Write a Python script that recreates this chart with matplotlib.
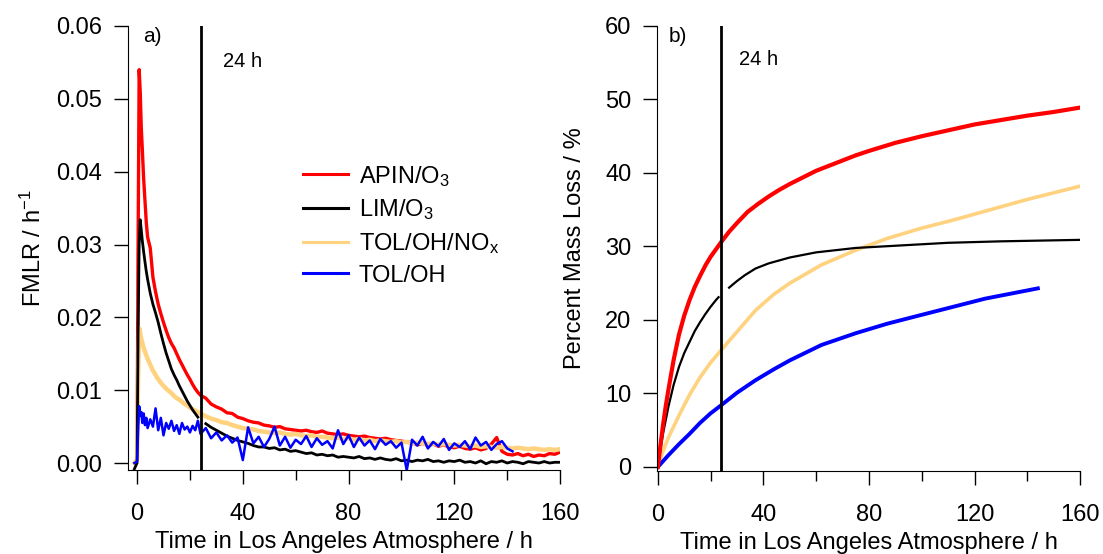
import matplotlib
matplotlib.use("Agg")
import matplotlib.pyplot as plt
import numpy as np

plt.rcParams["font.family"] = ["Liberation Sans", "DejaVu Sans"]
plt.rcParams["mathtext.fontset"] = "custom"
plt.rcParams["mathtext.rm"] = "Liberation Sans"
plt.rcParams["mathtext.default"] = "regular"

# ---- panel a) fractional mass loss rate, h^-1 ----
hours = [-1.0, 0.0, 0.4, 0.8, 1.2, 1.6, 2.0, 2.5, 3.0, 3.5, 4.0, 5.0, 6.0, 7.0, 8.0,
         9.0, 10.0, 11.0, 12.0, 13.0, 14.0, 15.0, 16.0, 17.0, 18.0, 19.0, 20.0, 21.0,
         22.0, 23.0, 24.0] + list(range(26, 161, 2))

fmlr_apin = [0.0, 0.0005, 0.030, 0.054, 0.051, 0.046, 0.043, 0.039, 0.036, 0.033, 0.031,
             0.0295, 0.0255, 0.0235, 0.0218, 0.0205, 0.0193, 0.0182, 0.0172, 0.0164, 0.0158,
             0.0150, 0.0142, 0.0135, 0.0128, 0.0121, 0.0115, 0.0108, 0.0102, 0.0097, 0.0093,
             0.0089, 0.0081, 0.0077, 0.0074, 0.0069, 0.0068, 0.0063, 0.0061, 0.0058, 0.0056,
             0.0055, 0.0052, 0.0051, 0.0049, 0.0050, 0.0047, 0.0046, 0.0045, 0.0044, 0.0045,
             0.0043, 0.0042, 0.0044, 0.0041, 0.0040, 0.0039, 0.0040, 0.0038, 0.0037, 0.0036,
             0.0037, 0.0035, 0.0034, 0.0033, 0.0034, 0.0032, 0.0031, 0.0030, 0.0029, 0.0028,
             0.0025, 0.0027, 0.0024, 0.0026, 0.0023, 0.0025, 0.0022, 0.0021, 0.0023, 0.0020,
             0.0019, 0.0021, 0.0018, 0.0020, 0.0026, 0.0035, 0.0016, 0.0012, 0.0011, 0.0013,
             0.0010, 0.0012, 0.0009, 0.0011, 0.0010, 0.0013, 0.0012, 0.0015]

fmlr_lim = [-0.0008, 0.0, 0.018, 0.030, 0.0334, 0.032, 0.0305, 0.0290, 0.0276, 0.0263, 0.0252,
            0.0233, 0.0218, 0.0206, 0.0193, 0.0178, 0.0164, 0.0151, 0.0140, 0.0129, 0.0121,
            0.0114, 0.0106, 0.0099, 0.0092, 0.0085, 0.0079, 0.0073, 0.0068, 0.0063, np.nan,
            0.0054, 0.0049, 0.0045, 0.0041, 0.0037, 0.0034, 0.0031, 0.0029, 0.0027, 0.0024,
            0.0022, 0.0022, 0.0020, 0.0021, 0.0018, 0.0019, 0.0016, 0.0017, 0.0015, 0.0013,
            0.0014, 0.0011, 0.0012, 0.0010, 0.0011, 0.0008, 0.0009, 0.0008, 0.0007, 0.0009,
            0.0006, 0.0007, 0.0005, 0.0007, 0.0005, 0.0004, 0.0006, 0.0003, 0.0004, 0.0002,
            0.0004, 0.0003, 0.0005, 0.0002, 0.0003, 0.0001, 0.0003, 0.0002, 0.0004, 0.0001,
            0.0002, 0.0000, 0.0003, -0.0001, 0.0002, 0.0001, 0.0003, 0.0000, 0.0002, 0.0001,
            -0.0001, 0.0002, 0.0001, 0.0000, 0.0002, 0.0000, 0.0001, 0.0001]

fmlr_tol_nox = [0.0, 0.0005, 0.012, 0.0185, 0.0178, 0.0170, 0.0165, 0.0158, 0.0153, 0.0148,
                0.0143, 0.0135, 0.0127, 0.0121, 0.0115, 0.0110, 0.0106, 0.0102, 0.0099, 0.0096,
                0.0092, 0.0089, 0.0087, 0.0084, 0.0081, 0.0079, 0.0076, 0.0074, 0.0072, 0.0070,
                0.0068, 0.0064, 0.0061, 0.0059, 0.0056, 0.0055, 0.0052, 0.0050, 0.0048, 0.0047,
                0.0046, 0.0044, 0.0043, 0.0042, 0.0041, 0.0042, 0.0040, 0.0039, 0.0040, 0.0038,
                0.0037, 0.0038, 0.0036, 0.0036, 0.0035, 0.0034, 0.0035, 0.0033, 0.0034, 0.0032,
                0.0033, 0.0031, 0.0032, 0.0030, 0.0031, 0.0030, 0.0029, 0.0030, 0.0028, 0.0029,
                0.0027, 0.0028, 0.0027, 0.0026, 0.0027, 0.0025, 0.0026, 0.0025, 0.0024, 0.0025,
                0.0024, 0.0023, 0.0024, 0.0022, 0.0023, 0.0022, 0.0021, 0.0022, 0.0021, 0.0020,
                0.0021, 0.0020, 0.0019, 0.0020, 0.0019, 0.0018, 0.0019, 0.0018, 0.0019]

fmlr_tol = [0.0, 0.0002, 0.0045, 0.0078, 0.0065, 0.0070, 0.0055, 0.0068, 0.0052, 0.0062,
            0.0048, 0.0060, 0.0050, 0.0075, 0.0045, 0.0062, 0.0038, 0.0055, 0.0047, 0.0058,
            0.0044, 0.0052, 0.0040, 0.0055, 0.0046, 0.0050, 0.0042, 0.0051, 0.0045, 0.0058,
            0.0040, 0.0048, 0.0034, 0.0042, 0.0031, 0.0038, 0.0028, 0.0035, 0.0004, 0.0049,
            0.0027, 0.0036, 0.0022, 0.0033, 0.0050, 0.0024, 0.0036, 0.0021, 0.0032, 0.0026,
            0.0037, 0.0022, 0.0034, 0.0025, 0.0030, 0.0020, 0.0045, 0.0026, 0.0038, 0.0022,
            0.0035, 0.0024, 0.0031, 0.0019, 0.0033, 0.0025, 0.0030, 0.0021, 0.0028, -0.0010,
            0.0032, 0.0024, 0.0036, 0.0020, 0.0029, 0.0023, 0.0033, 0.0018, 0.0027, 0.0022,
            0.0030, 0.0019, 0.0035, 0.0024, 0.0029, 0.0018, 0.0026, 0.0030, 0.0020, 0.0016]

# ---- panel b) cumulative percent mass loss ----
t_apin = [0, 1, 2, 3, 4, 6, 8, 10, 12, 14, 16, 18, 20, 22, 24, 27, 30, 34, 38, 42, 46, 50,
          55, 60, 65, 70, 75, 80, 90, 100, 110, 120, 130, 140, 150, 160]
pml_apin = [0, 3.0, 5.8, 8.3, 10.5, 14.6, 18.0, 20.6, 22.7, 24.5, 26.0, 27.4, 28.6, 29.6,
            30.6, 32.0, 33.2, 34.7, 35.8, 36.8, 37.7, 38.5, 39.4, 40.3, 41.0, 41.7, 42.4,
            43.0, 44.1, 45.0, 45.8, 46.6, 47.2, 47.8, 48.3, 48.9]

t_lim_1 = [0, 1, 2, 4, 6, 8, 10, 12, 14, 16, 18, 20, 22, 23]
pml_lim_1 = [0, 2.4, 4.6, 8.2, 11.2, 13.6, 15.5, 17.0, 18.5, 19.7, 20.8, 21.8, 22.7, 23.1]
t_lim_2 = [27, 30, 33, 37, 42, 50, 60, 75, 90, 110, 130, 160]
pml_lim_2 = [24.4, 25.3, 26.1, 27.0, 27.7, 28.5, 29.2, 29.8, 30.1, 30.5, 30.7, 30.9]

t_tol_nox = [0, 2, 4, 8, 12, 16, 20, 24, 30, 37, 44, 50, 62, 75, 87, 100, 112, 125, 140, 160]
pml_tol_nox = [0, 2.2, 4.0, 7.0, 9.8, 12.2, 14.2, 15.9, 18.4, 21.3, 23.5, 25.0, 27.5, 29.5,
               31.1, 32.5, 33.6, 34.9, 36.4, 38.2]

t_tol = [0, 4, 8, 12, 16, 20, 24, 30, 37, 44, 50, 62, 75, 87, 100, 112, 124, 134, 144]
pml_tol = [0, 1.6, 3.1, 4.5, 6.0, 7.3, 8.4, 10.1, 11.8, 13.3, 14.5, 16.6, 18.2, 19.5, 20.7,
           21.8, 22.9, 23.6, 24.3]

c_apin = "#ff0000"
c_lim = "#000000"
c_tol_nox = "#ffd27f"
c_tol = "#0000ff"

fig = plt.figure(figsize=(11.03, 5.54), dpi=100)
ax1 = fig.add_axes([0.1161, 0.1516, 0.3917, 0.8015])
ax2 = fig.add_axes([0.5957, 0.1498, 0.3835, 0.8033])

n_tol = len(fmlr_tol)
ax1.plot(hours, fmlr_apin, color=c_apin, lw=2.4, label="APIN/O$_3$")
ax1.plot(hours, fmlr_tol_nox, color=c_tol_nox, lw=3.2, label="TOL/OH/NO$_x$")
ax1.plot(hours, fmlr_lim, color=c_lim, lw=2.0, label="LIM/O$_3$")
ax1.plot(hours[:n_tol], fmlr_tol, color=c_tol, lw=1.8, label="TOL/OH")

ax2.plot(t_tol_nox, pml_tol_nox, color=c_tol_nox, lw=2.6)
ax2.plot(t_tol, pml_tol, color=c_tol, lw=2.8)
ax2.plot(t_lim_1, pml_lim_1, color=c_lim, lw=1.6)
ax2.plot(t_lim_2, pml_lim_2, color=c_lim, lw=1.6)
ax2.plot(t_apin, pml_apin, color=c_apin, lw=3.0)

for ax in (ax1, ax2):
    ax.axvline(24, color="black", lw=2.0)
    ax.spines["top"].set_visible(False)
    ax.spines["right"].set_visible(False)
    ax.set_xticks([0, 40, 80, 120, 160])
    ax.set_xticks([20, 60, 100, 140], minor=True)
    ax.tick_params(which="major", direction="out", length=10, width=1, labelsize=17)
    ax.tick_params(which="minor", direction="out", length=7, width=1)
    ax.tick_params(axis="x", which="major", pad=14)
    ax.tick_params(axis="y", which="major", pad=8.5)
    ax.set_xlabel("Time in Los Angeles Atmosphere / h", fontsize=17, labelpad=4)

ax1.set_xlim(-3.4, 160)
ax1.set_ylim(-0.00096, 0.06)
ax1.set_yticks([0.0, 0.01, 0.02, 0.03, 0.04, 0.05, 0.06])
ax1.set_yticklabels(["0.00", "0.01", "0.02", "0.03", "0.04", "0.05", "0.06"])
ax1.set_ylabel("FMLR / h$^{-1}$", fontsize=17, labelpad=7.5)
ax1.text(0.035, 0.998, "a)", transform=ax1.transAxes, fontsize=15, va="top")
ax1.text(0.22, 0.92, "24 h", transform=ax1.transAxes, fontsize=14.5, va="center")

handles, labels = ax1.get_legend_handles_labels()
order = [0, 2, 1, 3]
leg = ax1.legend([handles[i] for i in order], [labels[i] for i in order],
                 loc="upper left", bbox_to_anchor=(0.405, 0.69), frameon=False, fontsize=17,
                 handlelength=1.9, handletextpad=0.45, labelspacing=0.37,
                 borderpad=0, borderaxespad=0)
for line in leg.get_lines():
    line.set_linewidth(2.2)

ax2.set_xlim(-0.3, 160)
ax2.set_ylim(-0.55, 60)
ax2.set_yticks([0, 10, 20, 30, 40, 50, 60])
ax2.set_ylabel("Percent Mass Loss / %", fontsize=17, labelpad=14)
ax2.text(0.027, 0.998, "b)", transform=ax2.transAxes, fontsize=15, va="top")
ax2.text(0.193, 0.925, "24 h", transform=ax2.transAxes, fontsize=14.5, va="center")

fig.savefig("out.png", dpi=100)
